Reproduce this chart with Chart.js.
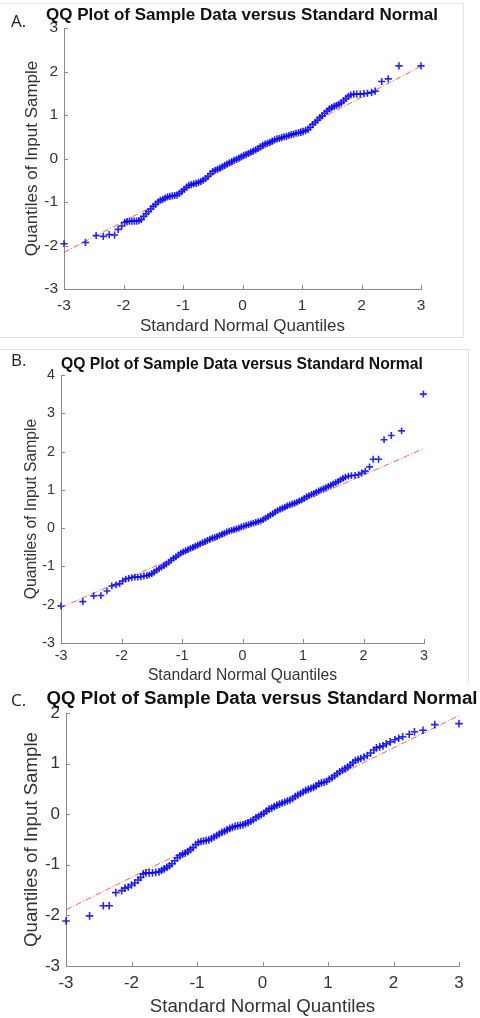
<!DOCTYPE html>
<html lang="en">
<head>
<meta charset="UTF-8">
<meta name="viewport" content="width=device-width, initial-scale=1.0">
<title>QQ Plots</title>
<script src="https://cdn.jsdelivr.net/npm/chart.js"></script>
<style>
    body { margin: 0; width: 480px; height: 1018px; position: relative; overflow: hidden; background: #fff; font-family: "Liberation Sans", Arial, sans-serif; }
    .panel { position: absolute; left: 0; width: 480px; background: #fff; }
    .title { position: absolute; z-index: 3; font-weight: bold; color: #111; white-space: nowrap; transform: translate(-50%, -50%); }
    .letter { position: absolute; z-index: 3; font-family: "Open Sans", "Liberation Sans", sans-serif; font-size: 17px; color: #222; transform: translateY(-50%); }
    .frame { position: absolute; z-index: 0; border: 0 solid #e2e2e2; }
</style>
</head>
<body>
    <div class="frame" style="left:0;top:3px;width:463px;height:333px;border-top-width:1px;border-right-width:1px;border-bottom-width:1px"></div>
    <div class="frame" style="left:0;top:349px;width:468px;height:340px;border-top-width:1px;border-right-width:1px"></div>

    <div class="panel" style="top:0;height:340px;background:transparent;z-index:1"><canvas id="chartA"></canvas></div>
    <div class="panel" style="top:340px;height:350px;background:transparent;z-index:1"><canvas id="chartB"></canvas></div>
    <div class="panel" style="top:683px;height:335px;z-index:2"><canvas id="chartC"></canvas></div>

    <div class="letter" style="left:11px;top:20px">A.</div>
    <div class="title" style="left:242px;top:15px;font-size:17px">QQ Plot of Sample Data versus Standard Normal</div>
    <div class="letter" style="left:11px;top:359px">B.</div>
    <div class="title" style="left:242px;top:364px;font-size:15.7px">QQ Plot of Sample Data versus Standard Normal</div>
    <div class="letter" style="left:11px;top:699px">C.</div>
    <div class="title" style="left:262px;top:698px;font-size:18.7px">QQ Plot of Sample Data versus Standard Normal</div>

<script>
// sample quantiles: [standard normal quantile, sample quantile]
const qqA = [
    [-3.00,-1.96],[-2.64,-1.93],[-2.46,-1.77],[-2.34,-1.79],[-2.24,-1.75],[-2.15,-1.76],[-2.09,-1.63],[-2.03,-1.55],[-1.98,-1.47],
    [-1.94,-1.45],[-1.90,-1.44],[-1.86,-1.44],[-1.82,-1.44],[-1.78,-1.44],[-1.74,-1.43],[-1.70,-1.40],[-1.66,-1.33],[-1.62,-1.27],
    [-1.58,-1.22],[-1.54,-1.16],[-1.50,-1.10],[-1.46,-1.05],[-1.42,-1.00],[-1.38,-0.96],[-1.34,-0.94],[-1.30,-0.91],[-1.26,-0.88],
    [-1.22,-0.87],[-1.18,-0.86],[-1.14,-0.85],[-1.10,-0.84],[-1.06,-0.80],[-1.02,-0.76],[-0.98,-0.71],[-0.94,-0.66],[-0.90,-0.62],
    [-0.86,-0.60],[-0.82,-0.58],[-0.78,-0.57],[-0.74,-0.55],[-0.70,-0.53],[-0.66,-0.50],[-0.62,-0.46],[-0.58,-0.41],[-0.54,-0.35],
    [-0.50,-0.30],[-0.46,-0.27],[-0.42,-0.25],[-0.38,-0.22],[-0.34,-0.19],[-0.30,-0.16],[-0.26,-0.13],[-0.22,-0.10],[-0.18,-0.07],
    [-0.14,-0.04],[-0.10,-0.02],[-0.06,0.01],[-0.02,0.04],[0.02,0.07],[0.06,0.09],[0.10,0.12],[0.14,0.15],[0.18,0.17],
    [0.22,0.20],[0.26,0.23],[0.30,0.27],[0.34,0.30],[0.38,0.33],[0.42,0.35],[0.46,0.37],[0.50,0.40],[0.54,0.43],
    [0.58,0.45],[0.62,0.46],[0.66,0.48],[0.70,0.50],[0.74,0.51],[0.78,0.53],[0.82,0.55],[0.86,0.56],[0.90,0.58],
    [0.94,0.59],[0.98,0.60],[1.02,0.62],[1.06,0.64],[1.10,0.67],[1.14,0.72],[1.18,0.78],[1.22,0.83],[1.26,0.88],
    [1.30,0.94],[1.34,0.98],[1.38,1.04],[1.42,1.09],[1.46,1.14],[1.50,1.17],[1.54,1.20],[1.58,1.22],[1.62,1.25],
    [1.66,1.28],[1.70,1.33],[1.74,1.38],[1.78,1.43],[1.82,1.46],[1.87,1.48],[1.92,1.48],[1.98,1.48],[2.04,1.49],
    [2.10,1.50],[2.17,1.52],[2.23,1.55],[2.34,1.77],[2.45,1.83],[2.63,2.13],[3.00,2.13]
];
const qqB = [
    [-3.00,-2.03],[-2.64,-1.92],[-2.46,-1.77],[-2.34,-1.76],[-2.24,-1.64],[-2.16,-1.51],[-2.09,-1.48],[-2.03,-1.45],[-1.98,-1.38],
    [-1.93,-1.33],[-1.88,-1.31],[-1.83,-1.29],[-1.78,-1.28],[-1.73,-1.28],[-1.68,-1.27],[-1.63,-1.25],[-1.58,-1.24],[-1.54,-1.22],
    [-1.50,-1.19],[-1.46,-1.15],[-1.42,-1.10],[-1.38,-1.06],[-1.34,-1.02],[-1.30,-0.98],[-1.26,-0.94],[-1.22,-0.89],[-1.18,-0.84],
    [-1.14,-0.79],[-1.10,-0.75],[-1.06,-0.70],[-1.02,-0.65],[-0.98,-0.62],[-0.94,-0.59],[-0.90,-0.56],[-0.86,-0.53],[-0.82,-0.50],
    [-0.78,-0.47],[-0.74,-0.44],[-0.70,-0.41],[-0.66,-0.38],[-0.62,-0.35],[-0.58,-0.32],[-0.54,-0.29],[-0.50,-0.26],[-0.46,-0.24],
    [-0.42,-0.22],[-0.38,-0.19],[-0.34,-0.16],[-0.30,-0.13],[-0.26,-0.10],[-0.22,-0.08],[-0.18,-0.06],[-0.14,-0.04],[-0.10,-0.02],
    [-0.06,0.00],[-0.02,0.03],[0.02,0.05],[0.06,0.07],[0.10,0.09],[0.14,0.11],[0.18,0.13],[0.22,0.15],[0.26,0.17],
    [0.30,0.19],[0.34,0.22],[0.38,0.26],[0.42,0.30],[0.46,0.34],[0.50,0.38],[0.54,0.42],[0.58,0.46],[0.62,0.49],
    [0.66,0.52],[0.70,0.55],[0.74,0.58],[0.78,0.61],[0.82,0.63],[0.86,0.65],[0.90,0.68],[0.94,0.71],[0.98,0.74],
    [1.02,0.78],[1.06,0.82],[1.10,0.85],[1.14,0.88],[1.18,0.91],[1.22,0.94],[1.26,0.97],[1.30,1.00],[1.34,1.03],
    [1.38,1.06],[1.42,1.09],[1.46,1.12],[1.50,1.15],[1.54,1.19],[1.58,1.22],[1.62,1.26],[1.66,1.30],[1.70,1.33],
    [1.75,1.36],[1.80,1.37],[1.86,1.38],[1.92,1.40],[1.97,1.44],[2.03,1.49],[2.10,1.60],[2.16,1.80],[2.25,1.80],
    [2.34,2.31],[2.46,2.42],[2.63,2.54],[2.99,3.50]
];
const qqC = [
    [-3.00,-2.11],[-2.64,-2.01],[-2.43,-1.81],[-2.34,-1.81],[-2.24,-1.55],[-2.15,-1.51],[-2.10,-1.46],[-2.05,-1.44],[-2.00,-1.40],
    [-1.95,-1.36],[-1.90,-1.30],[-1.86,-1.25],[-1.82,-1.18],[-1.78,-1.16],[-1.73,-1.16],[-1.68,-1.16],[-1.63,-1.15],[-1.58,-1.14],
    [-1.54,-1.11],[-1.50,-1.08],[-1.46,-1.05],[-1.42,-1.02],[-1.38,-0.98],[-1.34,-0.92],[-1.30,-0.86],[-1.26,-0.82],[-1.22,-0.79],
    [-1.18,-0.77],[-1.14,-0.74],[-1.10,-0.70],[-1.06,-0.66],[-1.02,-0.60],[-0.98,-0.56],[-0.94,-0.54],[-0.90,-0.53],[-0.86,-0.52],
    [-0.82,-0.51],[-0.78,-0.48],[-0.74,-0.45],[-0.70,-0.42],[-0.66,-0.39],[-0.62,-0.36],[-0.58,-0.34],[-0.54,-0.31],[-0.50,-0.28],
    [-0.46,-0.26],[-0.42,-0.24],[-0.38,-0.23],[-0.34,-0.22],[-0.30,-0.21],[-0.26,-0.19],[-0.22,-0.17],[-0.18,-0.14],[-0.14,-0.11],
    [-0.10,-0.07],[-0.06,-0.04],[-0.02,-0.01],[0.02,0.02],[0.06,0.06],[0.10,0.10],[0.14,0.12],[0.18,0.15],[0.22,0.18],
    [0.26,0.20],[0.30,0.22],[0.34,0.24],[0.38,0.26],[0.42,0.28],[0.46,0.31],[0.50,0.35],[0.54,0.38],[0.58,0.41],
    [0.62,0.44],[0.66,0.47],[0.70,0.49],[0.74,0.51],[0.78,0.53],[0.82,0.56],[0.86,0.60],[0.90,0.62],[0.94,0.63],
    [0.98,0.65],[1.02,0.69],[1.06,0.72],[1.10,0.76],[1.14,0.80],[1.18,0.84],[1.22,0.87],[1.26,0.90],[1.30,0.93],
    [1.34,0.97],[1.38,1.02],[1.42,1.06],[1.46,1.08],[1.50,1.10],[1.55,1.13],[1.60,1.16],[1.65,1.21],[1.70,1.27],
    [1.74,1.31],[1.79,1.33],[1.84,1.35],[1.89,1.39],[1.95,1.43],[2.02,1.47],[2.08,1.50],[2.14,1.53],[2.24,1.58],
    [2.32,1.63],[2.45,1.66],[2.63,1.77],[3.00,1.79]
];

// red dash-dot reference line end points (x = -3 and x = 3)
const refX = [-3, 3];
const refA = [-2.16, 2.12];
const refB = [-2.07, 2.08];
const refC = [-1.89, 1.95];

// axis limits
const xRange = [-3, 3];
const yRangeA = [-3, 3];
const yRangeB = [-3, 4];
const yRangeC = [-3, 2];

const xTitle = 'Standard Normal Quantiles';
const yTitle = 'Quantiles of Input Sample';
const axisColor = '#8a8a8a';
const textColor = '#333';

// MATLAB style tick marks pointing into the axes
const inwardTicks = {
    id: 'inwardTicks',
    afterDraw(chart) {
        const { ctx, chartArea: a, scales: { x, y } } = chart;
        ctx.save();
        ctx.strokeStyle = axisColor;
        ctx.lineWidth = 1;
        ctx.beginPath();
        x.ticks.forEach(t => {
            const px = Math.round(x.getPixelForValue(t.value)) + 0.5;
            ctx.moveTo(px, a.bottom);
            ctx.lineTo(px, a.bottom - 4);
        });
        y.ticks.forEach(t => {
            const py = Math.round(y.getPixelForValue(t.value)) + 0.5;
            ctx.moveTo(a.left, py);
            ctx.lineTo(a.left + 4, py);
        });
        ctx.stroke();
        ctx.restore();
    }
};

function makeQQ(id, pts, refY, yRange, p) {
    new Chart(document.getElementById(id), {
        type: 'scatter',
        data: {
            datasets: [{
                data: pts.map(d => ({ x: d[0], y: d[1] })),
                pointStyle: 'cross',
                pointRadius: p.mark,
                pointHoverRadius: p.mark,
                pointBorderWidth: 1.6,
                borderColor: 'rgba(0, 0, 255, 0.85)',
                backgroundColor: 'rgba(0, 0, 255, 0.85)',
                clip: false
            }, {
                data: refX.map((x, i) => ({ x: x, y: refY[i] })),
                showLine: true,
                borderColor: 'rgba(255, 40, 40, 0.75)',
                borderWidth: 1,
                borderDash: [6, 2, 1, 2],
                pointRadius: 0,
                fill: false
            }]
        },
        options: {
            responsive: true,
            maintainAspectRatio: false,
            animation: false,
            layout: { padding: { top: p.top, right: p.right, bottom: 0, left: 0 } },
            plugins: {
                legend: { display: false },
                title: { display: false },
                tooltip: { enabled: false }
            },
            scales: {
                x: {
                    type: 'linear',
                    min: xRange[0], max: xRange[1],
                    grid: { display: false, drawTicks: false },
                    border: { display: true, color: axisColor },
                    ticks: { stepSize: 1, padding: p.xPad, color: textColor, font: { family: 'Liberation Sans', size: p.tick } },
                    title: { display: true, text: xTitle, color: textColor, padding: { top: 0, bottom: p.xTitlePad }, font: { family: 'Liberation Sans', size: p.label } },
                    afterFit: s => { s.height = p.xH; }
                },
                y: {
                    type: 'linear',
                    min: yRange[0], max: yRange[1],
                    grid: { display: false, drawTicks: false },
                    border: { display: true, color: axisColor },
                    ticks: { stepSize: 1, padding: 6, color: textColor, font: { family: 'Liberation Sans', size: p.tick } },
                    title: { display: true, text: yTitle, color: textColor, padding: { top: p.yTitlePad, bottom: 0 }, font: { family: 'Liberation Sans', size: p.label } },
                    afterFit: s => { s.width = p.yW; }
                }
            }
        },
        plugins: [inwardTicks]
    });
}

makeQQ('chartA', qqA, refA, yRangeA, { top: 28, right: 59, yW: 64, xH: 51, tick: 15.5, label: 17, xPad: 7, xTitlePad: 3, yTitlePad: 22, mark: 3.6 });
makeQQ('chartB', qqB, refB, yRangeB, { top: 35, right: 56, yW: 61, xH: 47, tick: 14.3, label: 15.7, xPad: 4, xTitlePad: 5, yTitlePad: 22, mark: 3.4 });
makeQQ('chartC', qqC, refC, yRangeC, { top: 30, right: 21, yW: 66, xH: 52, tick: 17, label: 18.7, xPad: 7, xTitlePad: 0, yTitlePad: 21, mark: 3.8 });
</script>
</body>
</html>
